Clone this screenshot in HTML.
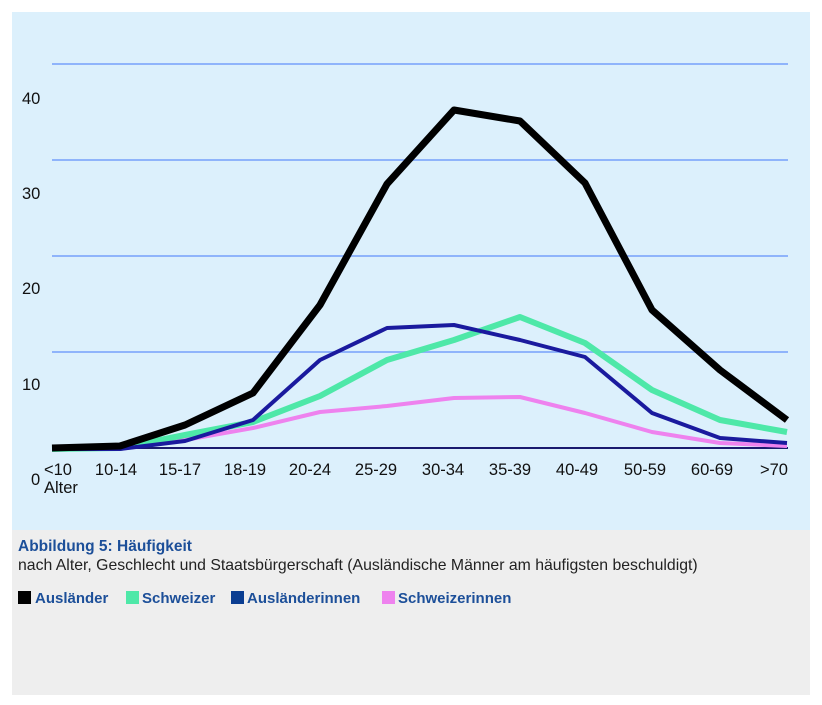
<!DOCTYPE html>
<html><head><meta charset="utf-8"><style>
body{margin:0;background:#fff;width:822px;height:705px;overflow:hidden;font-family:"Liberation Sans",Arial,sans-serif}
</style></head><body>
<svg width="822" height="705" style="position:absolute;left:0;top:0">
<rect x="12" y="12" width="798" height="518" fill="#dcf0fc"/>
<rect x="12" y="530" width="798" height="165" fill="#eeeeee"/>
<g stroke="#8fb4fb" stroke-width="2">
<line x1="52" y1="64" x2="788" y2="64"/><line x1="52" y1="160" x2="788" y2="160"/>
<line x1="52" y1="256" x2="788" y2="256"/><line x1="52" y1="352" x2="788" y2="352"/>
</g>
<line x1="52" y1="448" x2="788" y2="448" stroke="#1a1a6e" stroke-width="2"/>
<g font-size="16.5" fill="#111">
<text x="22" y="104">40</text><text x="22" y="199">30</text><text x="22" y="294">20</text><text x="22" y="390">10</text><text x="31" y="485">0</text>
<text x="44" y="475">&lt;10</text><text x="44" y="493">Alter</text>
<g text-anchor="middle"><text x="116" y="475">10-14</text><text x="180" y="475">15-17</text><text x="245" y="475">18-19</text><text x="310" y="475">20-24</text><text x="376" y="475">25-29</text><text x="443" y="475">30-34</text><text x="510" y="475">35-39</text><text x="577" y="475">40-49</text><text x="645" y="475">50-59</text><text x="712" y="475">60-69</text><text x="774" y="475">&gt;70</text></g>
</g>
<g fill="none" stroke-linejoin="round">
<polyline stroke="#ee82ee" stroke-width="4" points="52,449 120,449 185,440 253,428 320,412 387,406 454,398 520,397 585,413 652,432 720,443 787,446"/>
<polyline stroke="#4ee8a8" stroke-width="6" points="52,449 120,448 185,435 253,422 320,396 387,360 454,340 520,317 585,343 652,390 720,420 787,432"/>
<polyline stroke="#1a1a9e" stroke-width="4" points="52,449 120,449 185,441 253,420 320,360 387,328 454,325 520,340 585,357 652,413 720,438 787,443"/>
<polyline stroke="#000" stroke-width="7" points="52,448 120,446 185,425 253,393 320,305 387,184 454,110 520,121 585,183 652,310 720,370 787,420"/>
</g>
<text x="18" y="551" font-size="15.5" font-weight="bold" fill="#1c4f99">Abbildung 5: Häufigkeit</text>
<text x="18" y="570" font-size="15.8" fill="#222">nach Alter, Geschlecht und Staatsbürgerschaft (Ausländische Männer am häufigsten beschuldigt)</text>
<g font-size="15" font-weight="bold" fill="#1c4f99">
<rect x="18" y="591" width="13" height="13" fill="#000"/><text x="35" y="603">Ausländer</text>
<rect x="126" y="591" width="13" height="13" fill="#4ee8a8"/><text x="142" y="603">Schweizer</text>
<rect x="231" y="591" width="13" height="13" fill="#0a3d91"/><text x="247" y="603">Ausländerinnen</text>
<rect x="382" y="591" width="13" height="13" fill="#ee82ee"/><text x="398" y="603">Schweizerinnen</text>
</g>
</svg>
</body></html>
